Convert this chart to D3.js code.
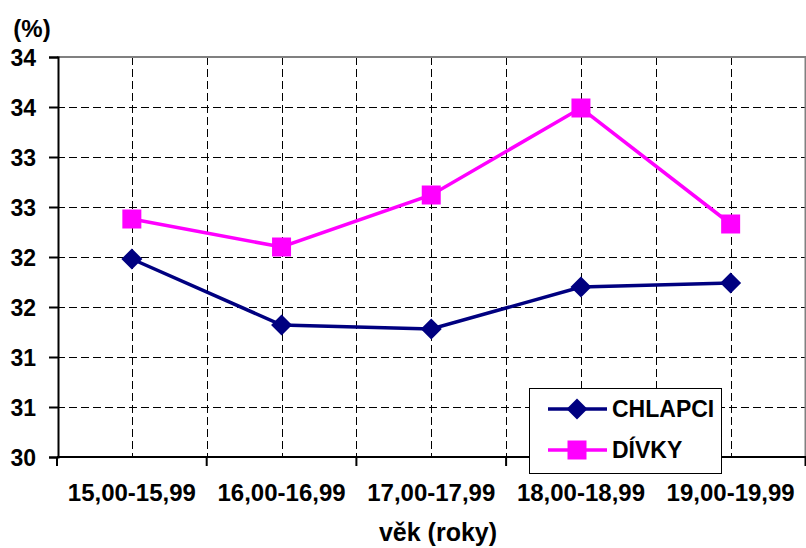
<!DOCTYPE html>
<html>
<head>
<meta charset="utf-8">
<script src="https://cdn.jsdelivr.net/npm/d3@7"></script>
<style>
  html, body { margin: 0; padding: 0; background: #fff; }
  svg { display: block; }
  text { font-family: "Liberation Sans", Arial, sans-serif; font-weight: bold; fill: #000; }
</style>
</head>
<body>
<svg id="chart" width="806" height="548"></svg>
<script>
// Age groups on the horizontal axis
const categories = ["15,00-15,99", "16,00-16,99", "17,00-17,99", "18,00-18,99", "19,00-19,99"];

// Series values (%)
const chlapci = [31.98, 31.32, 31.28, 31.70, 31.74];
const divky   = [32.38, 32.10, 32.62, 33.49, 32.33];

// Vertical axis ticks and their printed labels
const yTickValues = [30, 30.5, 31, 31.5, 32, 32.5, 33, 33.5, 34];
const yTickLabels = ["30", "31", "31", "32", "32", "33", "33", "34", "34"];

const seriesNames = ["CHLAPCI", "DÍVKY"];

const svg = d3.select("#chart");
const plot = { left: 57, right: 805.5, top: 57, bottom: 457 };

const x = d3.scaleBand().domain(categories).range([plot.left, plot.right]).paddingInner(0).paddingOuter(0);
const y = d3.scaleLinear().domain([30, 34]).range([plot.bottom, plot.top]);
const cx = c => x(c) + x.bandwidth() / 2;

// Gridlines (dashed): horizontal at each tick, vertical at category centres and boundaries
const grid = svg.append("g").attr("stroke", "#000").attr("stroke-width", 1).attr("stroke-dasharray", "8,4");
grid.selectAll("line.h").data(yTickValues.filter(v => v > 30 && v < 34)).enter().append("line")
  .attr("x1", plot.left).attr("x2", plot.right)
  .attr("y1", d => Math.round(y(d)) + 0.5).attr("y2", d => Math.round(y(d)) + 0.5);
const vPos = categories.map(cx).concat(categories.slice(1).map(c => x(c)));
grid.selectAll("line.v").data(vPos).enter().append("line")
  .attr("x1", d => Math.round(d) + 0.5).attr("x2", d => Math.round(d) + 0.5)
  .attr("y1", plot.top).attr("y2", plot.bottom);

// Plot area frame (top and right)
svg.append("path")
  .attr("d", `M${plot.left},${plot.top}H${plot.right}V${plot.bottom}`)
  .attr("fill", "none").attr("stroke", "#808080").attr("stroke-width", 2);

// Y axis
const yAxis = d3.axisLeft(y).tickValues(yTickValues)
  .tickFormat((d, i) => yTickLabels[i]).tickSize(9).tickPadding(13);
const gy = svg.append("g").attr("transform", `translate(${plot.left + 1},0)`).call(yAxis);
gy.select(".domain").attr("stroke", "#000").attr("stroke-width", 2);
gy.selectAll(".tick line").attr("stroke", "#000").attr("stroke-width", 2);
gy.selectAll(".tick text").style("font-size", "23px").attr("dy", "0.35em");

// X axis: tick marks at category boundaries, labels at centres
const gx = svg.append("g").attr("transform", `translate(0,${plot.bottom})`);
gx.append("line").attr("x1", plot.left).attr("x2", plot.right + 1).attr("stroke", "#000").attr("stroke-width", 2);
const bounds = categories.map(c => x(c)).concat([plot.right]);
gx.selectAll("line.t").data(bounds).enter().append("line")
  .attr("x1", d => d).attr("x2", d => d).attr("y1", 0).attr("y2", 9)
  .attr("stroke", "#000").attr("stroke-width", 2);
gx.selectAll("text").data(categories).enter().append("text")
  .attr("x", d => cx(d)).attr("y", 44).attr("text-anchor", "middle")
  .style("font-size", "24px").text(d => d);

// Axis titles
svg.append("text").attr("x", 32).attr("y", 37).attr("text-anchor", "middle")
  .style("font-size", "24px").text("(%)");
svg.append("text").attr("x", 438).attr("y", 541).attr("text-anchor", "middle")
  .style("font-size", "25px").text("věk (roky)");

// Series
const navy = "#000080", magenta = "#FF00FF";
const line = d3.line().x((d, i) => cx(categories[i])).y(d => y(d));

const diamond = (px, py, r) => `M${px},${py - r}L${px + r},${py}L${px},${py + r}L${px - r},${py}Z`;
const square = (px, py, r) => `M${px - r},${py - r}h${2 * r}v${2 * r}h${-2 * r}Z`;

svg.append("path").datum(divky).attr("d", line)
  .attr("fill", "none").attr("stroke", magenta).attr("stroke-width", 3.5);
svg.append("path").datum(chlapci).attr("d", line)
  .attr("fill", "none").attr("stroke", navy).attr("stroke-width", 3.5);

svg.selectAll("path.sq").data(divky).enter().append("path")
  .attr("d", (d, i) => square(cx(categories[i]), y(d), 9.5)).attr("fill", magenta);
svg.selectAll("path.dm").data(chlapci).enter().append("path")
  .attr("d", (d, i) => diamond(cx(categories[i]), y(d), 10.5)).attr("fill", navy);

// Legend
const lg = svg.append("g");
lg.append("rect").attr("x", 529.5).attr("y", 388.5).attr("width", 192).attr("height", 85)
  .attr("fill", "#fff").attr("stroke", "#000").attr("stroke-width", 1);
const legendItems = [
  { name: seriesNames[0], color: navy, marker: diamond, r: 10.5 },
  { name: seriesNames[1], color: magenta, marker: square, r: 9.5 }
];
legendItems.forEach((it, i) => {
  const ly = 409 + i * 41;
  lg.append("line").attr("x1", 548).attr("x2", 607).attr("y1", ly).attr("y2", ly)
    .attr("stroke", it.color).attr("stroke-width", 3.5);
  lg.append("path").attr("d", it.marker(577, ly, it.r)).attr("fill", it.color);
  lg.append("text").attr("x", 612).attr("y", ly).attr("dy", "0.35em")
    .style("font-size", "23px").text(it.name);
});
</script>
</body>
</html>
